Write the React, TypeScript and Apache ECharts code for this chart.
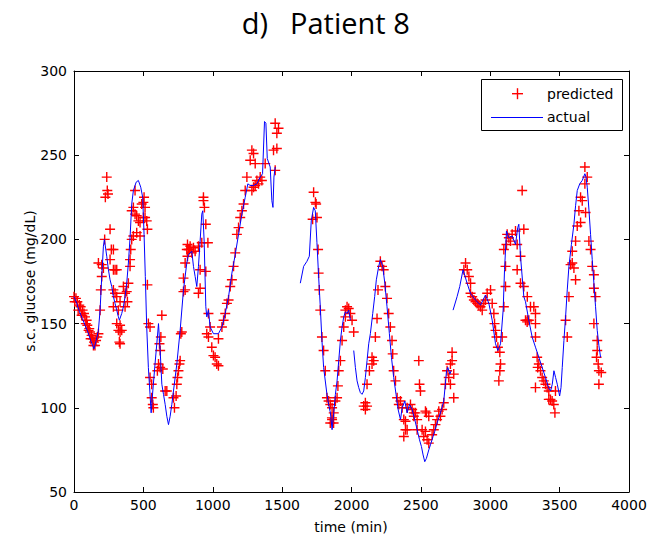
import React, { useEffect, useRef } from "react";
import * as echarts from "echarts";

// ---- tick labels / titles ----
const titleLeft = "d)";
const titleRight = "Patient 8";
const xName = "time (min)";
const yName = "s.c. glucose (mg/dL)";
const legendNames = ["predicted", "actual"];

// ---- actual (CGM) trace; null marks a gap in the record ----
const actualTime = [
  0, 20, 40, 60, 80, 100, 120, 144, 160, 176, 188, 200, 212, 219, 236, 248, 260, 272, 284, 296, 308, 320, 327,
  344, 356, 368, 380, 392, 404, 416, 428, 448, 464, 481, 495, 505, 514, 524, 536, 548, 556, 568, 584, 601, 609,
  621, 633, 645, 657, 669, 681, 693, 705, 717, 741, 765, 789, 813, 825, 849, 861, 873, 885, 897, 909, 921, 928,
  938, 950, 957, 969, 981, 1005, 1041, 1066, 1090, 1114, 1138, 1162, 1186, 1210, 1234, 1253, 1270, 1294, 1318,
  1342, 1359, 1373, 1383, 1393, 1414, 1426, 1434, 1441, 1450,
  1540,
  1631, 1655, 1679, 1696, 1710, 1727, 1739, 1751, 1763, 1775, 1787, 1799, 1823, 1835, 1848, 1860, 1872, 1884,
  1896, 1908, 1920, 1932, 1944, 1956, 1968, 1980, 1992,
  2004,
  2016, 2028, 2040, 2052, 2064, 2076, 2088, 2100, 2112, 2124, 2136, 2153, 2167, 2179, 2196, 2208, 2225, 2240,
  2256, 2273, 2288, 2304, 2321, 2336, 2353, 2365, 2384, 2401, 2418, 2437, 2456, 2473, 2490, 2504, 2516, 2528,
  2540, 2557, 2569, 2588, 2600, 2617, 2641, 2665, 2685, 2694, 2709, 2718,
  2725,
  2732, 2761, 2780, 2804, 2833, 2857, 2893, 2930, 2966, 2990, 3014, 3038, 3055, 3074, 3093, 3103, 3117, 3134,
  3158, 3182, 3198, 3206, 3218, 3242, 3254, 3278, 3302, 3326, 3350, 3374, 3398, 3420, 3435, 3447, 3459, 3471,
  3483, 3500, 3510, 3519, 3531, 3543, 3555, 3567, 3585, 3603, 3615, 3627, 3645, 3663, 3682, 3690, 3699, 3711,
  3723, 3735, 3747, 3759, 3771, 3783, 3795,
];
const actualGlucose = [
  166, 162, 157, 153, 149, 145, 140, 135, 140, 146, 158, 178, 196, 200, 190, 182, 176, 172, 166, 162, 158, 154, 152,
  156, 160, 166, 174, 186, 201, 221, 229, 234, 235, 231, 225, 203, 178, 148, 124, 108, 97, 110, 126, 142, 150,
  134, 114, 108, 102, 95, 90, 95, 102, 110, 126, 146, 170, 186, 191, 193, 184, 178, 172, 184, 199, 215, 217,
  199, 160, 154, 158, 148, 144, 144, 148, 156, 166, 180, 191, 203, 215, 225, 233, 232, 232, 233,
  237, 239, 270, 269, 248, 243, 223, 219, 237, 243,
  null,
  174, 184, 187, 190, 211, 219, 217, 198, 178, 160, 140, 124, 108, 102, 97, 87, 97, 108,
  116, 128, 140, 148, 154, 157, 156, 158, 152,
  null,
  134, 124, 116, 112, 109, 108, 110, 118, 128, 138, 144, 156, 166, 176, 184, 188, 184, 174,
  160, 144, 130, 118, 108, 99, 93, 100, 104, 97, 102, 99, 93, 87, 81, 77, 72, 68,
  70, 75, 78, 83, 86, 91, 97, 104, 122, 124, 120, 122,
  null,
  158, 166, 172, 182, 174, 168, 164, 161, 167, 162, 152, 138, 134, 138, 158, 182, 205, 201,
  202, 197, 207, 209, 190, 166, 163, 152, 142, 136, 130, 124, 118, 112, 110, 114, 122, 118,
  114, 107, 112, 124, 140, 154, 170, 184, 197, 209, 220, 229, 233, 235, 239, 237, 231, 218,
  203, 188, 174, 160, 146, 137, 130,
];

// ---- predicted values ----
const predictedTime = [
  0, 5, 14, 24, 30, 38, 48, 55, 62, 72, 79, 85, 91, 96, 105, 110, 115, 120, 127, 135, 140, 144, 151, 159, 168, 176,
  188, 193, 200, 176, 200, 212, 221, 236, 240, 226, 245, 260, 269, 284, 260, 284, 296, 308, 284, 296, 308, 332,
  356, 368, 380, 284, 320, 308, 332, 320, 332, 344, 327, 332, 368, 385, 392, 404, 409, 416, 428, 404,
  416, 428, 440, 452, 464, 476, 488, 500, 512, 500, 512, 524, 529, 452, 476, 440, 505,
  529, 536, 548, 633, 616, 626, 621, 609, 601, 621, 640, 548, 560, 560, 568, 572, 657, 669, 717, 736, 741, 746,
  753, 760, 765, 724, 770, 777, 789, 801, 789, 801, 813, 818, 832, 818,
  825, 849, 873, 897, 921, 837, 861, 909, 950, 933, 940, 933, 950, 965, 897, 909, 969, 981, 957, 969, 993,
  1005, 1017, 1029, 1041, 1041, 1066, 1078, 1090, 1102, 1114, 1126, 1138, 1150, 1162, 1174, 1186, 1198, 1210,
  1222, 1234, 1246, 1270, 1282, 1294, 1306, 1318, 1330, 1342, 1354, 1378, 1450, 1438, 1462, 1462, 1474, 1450,
  1282, 1294, 1306,
  1727, 1740, 1720, 1751, 1745, 1759, 1763, 1768, 1775, 1787, 1799, 1811, 1823, 1835, 1847, 1860, 1872, 1860,
  1884, 1896, 1902, 1908, 1920, 1932, 1944, 1956, 1968, 1980, 1992, 2004, 2016, 1956, 1859, 1871, 1847,
  2100, 2112, 2088, 2100, 2112, 2129, 2148, 2160, 2148, 2172, 2184, 2191, 2208, 2220, 2232, 2244, 2256, 2268,
  2280, 2292, 2297, 2304, 2317, 2329, 2341, 2353, 2365, 2377, 2389, 2377, 2401, 2425, 2437, 2449, 2461, 2473,
  2485, 2490, 2497, 2509, 2521, 2389, 2401, 2449, 2473, 2540, 2533, 2545, 2557, 2581, 2593, 2605, 2617, 2641,
  2653, 2665, 2533, 2557, 2629, 2677, 2689, 2701, 2713, 2713, 2725, 2725, 2737, 2737,
  2822, 2834, 2810, 2846, 2858, 2858, 2870, 2882, 2894, 2906, 2918, 2930, 2942, 2954, 2966, 2978, 3002, 3014,
  3026, 3031, 3038, 3045, 3055, 3069, 3074, 3069, 3062, 3086, 3098, 3110, 3110, 3098, 3117, 3122, 3134, 3146,
  3158, 3182, 3194, 3194, 3218, 3242, 3230, 3218, 3242, 3267, 3267, 3290, 3314, 3326, 3254, 3266, 3278, 3326,
  3326, 3338, 3350, 3342, 3362, 3374, 3386, 3326, 3398, 3410, 3422, 3434, 3422, 3446, 3458, 3466, 3470,
  3543, 3555, 3567, 3579, 3591, 3603, 3615, 3591, 3615, 3627, 3651, 3639, 3663, 3651, 3687, 3682, 3699, 3682,
  3711, 3723, 3735, 3747, 3747, 3759, 3747, 3771, 3771, 3766, 3778, 3783, 3800, 3783,
];
const predictedGlucose = [
  166, 163, 165, 163, 158, 161, 160, 155, 158, 156, 154, 150, 152, 149, 146, 147, 145, 141, 143, 141, 137, 139, 137, 140, 142, 144,
  158, 170, 178, 186, 185, 183, 200, 237, 229, 225, 227, 206, 194, 194, 188, 182, 182, 182, 170, 168, 166, 163,
  172, 168, 169, 160, 158, 150, 149, 146, 145, 146, 139, 138, 160, 163, 174, 184, 194, 200, 202, 188,
  217, 219, 215, 214, 211, 210, 221, 222, 219, 213, 213, 211, 206, 204, 202, 229, 225,
  173, 150, 148, 155, 138, 142, 134, 126, 122, 124, 123, 118, 114, 106, 102, 100, 110, 110, 106, 107, 114, 118,
  122, 126, 128, 100, 144, 145, 169, 170, 177, 186, 194, 197, 194, 190,
  194, 192, 193, 196, 198, 196, 195, 182, 181, 223, 219, 225, 209, 198, 168, 171, 156, 148, 144, 142, 136,
  131, 130, 126, 125, 141, 148, 152, 156, 162, 164, 172, 176, 184, 192, 203, 207, 213, 217,
  221, 229, 237, 247, 253, 251, 245, 235, 233, 237, 235, 245, 241, 253, 254, 263, 266, 269,
  229, 231, 232,
  228, 222, 212, 213, 221, 194, 180, 170, 158, 142, 134, 122, 106, 104, 102, 100, 97, 93,
  104, 106, 113, 122, 128, 140, 148, 158, 160, 159, 156, 152, 145, 154, 94, 91, 91,
  103, 101, 101, 99, 114, 122, 130, 128, 126, 142, 153, 170, 187, 184, 182, 172, 165, 156,
  148, 140, 132, 122, 116, 106, 102, 104, 100, 93, 87, 83, 100, 102, 99, 95, 97, 87,
  128, 114, 110, 87, 83, 92, 87, 97, 93, 97, 86, 81, 79, 84, 87, 90, 93, 95,
  99, 103, 98, 95, 98, 114, 122, 118, 114, 126, 128, 133, 120, 106,
  186, 182, 182, 178, 174, 168, 166, 164, 163, 162, 161, 160, 158, 162, 164, 168, 170, 162,
  156, 150, 146, 142, 136, 133, 126, 122, 116, 142, 160, 172, 184, 194, 197, 203, 201, 199,
  203, 205, 197, 182, 190, 206, 229, 174, 172, 166, 152, 160, 160, 156, 152, 151, 152, 150,
  142, 130, 126, 124, 122, 118, 116, 112, 114, 112, 110, 105, 105, 104, 102, 97, 110,
  152, 142, 166, 185, 186, 183, 176, 193, 199, 208, 210, 217, 223, 225, 216, 233, 237, 243,
  199, 194, 184, 179, 171, 166, 150, 140, 134, 130, 126, 122, 121, 114,
];

const FONT = '"DejaVu Sans", sans-serif';

export default function App() {
  const ref = useRef<HTMLDivElement>(null);

  useEffect(() => {
    if (!ref.current) return;
    const chart = echarts.init(ref.current, null, { renderer: "svg" });

    const predicted = predictedTime.map((t, i) => [t, predictedGlucose[i]]);
    const actual = actualTime.map((t, i) => [t, actualGlucose[i] === null ? "-" : actualGlucose[i]]);

    const axisLine = { show: true, onZero: false, lineStyle: { color: "#000", width: 1 } };
    const axisTick = { show: true, inside: true, length: 5, lineStyle: { color: "#000", width: 1 } };
    const label = { color: "#000", fontSize: 14, fontFamily: FONT, formatter: (v: number) => String(v) };

    const plus = "path://M4.3,0H5.7V4.3H10V5.7H5.7V10H4.3V5.7H0V4.3H4.3Z";

    chart.setOption({
      animation: false,
      backgroundColor: "#fff",
      grid: { left: 74, right: 36, top: 71, bottom: 49, outerBoundsMode: "none", containLabel: false },
      xAxis: [
        {
          type: "value", min: 0, max: 4000, interval: 500, position: "bottom",
          axisLine, axisTick, splitLine: { show: false },
          axisLabel: { ...label, margin: 6 },
        },
        {
          type: "value", min: 0, max: 4000, interval: 500, position: "top",
          axisLine, axisTick, splitLine: { show: false }, axisLabel: { show: false },
        },
      ],
      yAxis: [
        {
          type: "value", min: 50, max: 300, interval: 50, position: "left",
          axisLine, axisTick, splitLine: { show: false },
          axisLabel: { ...label, margin: 7 },
        },
        {
          type: "value", min: 50, max: 300, interval: 50, position: "right",
          axisLine, axisTick, splitLine: { show: false }, axisLabel: { show: false },
        },
      ],
      series: [
        {
          name: legendNames[0],
          type: "scatter",
          xAxisIndex: 0, yAxisIndex: 0,
          data: predicted,
          symbol: plus,
          symbolSize: 10,
          itemStyle: { color: "#ff0000", opacity: 1 },
          z: 2,
        },
        {
          name: legendNames[1],
          type: "line",
          xAxisIndex: 0, yAxisIndex: 0,
          data: actual,
          showSymbol: false,
          connectNulls: false,
          lineStyle: { color: "#0000ff", width: 1 },
          itemStyle: { color: "#0000ff" },
          z: 3,
        },
      ],
      graphic: [
        {
          type: "text", x: 268, y: 22, z: 10,
          style: { text: titleLeft, font: '29px "Open Sans", sans-serif', fill: "#000", align: "right", verticalAlign: "middle" },
        },
        {
          type: "text", x: 290, y: 22, z: 10,
          style: { text: titleRight, font: '29px "Open Sans", sans-serif', fill: "#000", align: "left", verticalAlign: "middle" },
        },
        {
          type: "text", x: 351, y: 527, z: 10,
          style: { text: xName, font: `14px ${FONT}`, fill: "#000", align: "center", verticalAlign: "middle" },
        },
        {
          type: "text", x: 30, y: 281, rotation: Math.PI / 2, z: 10,
          style: { text: yName, font: `14px ${FONT}`, fill: "#000", align: "center", verticalAlign: "middle" },
        },
        {
          type: "rect", z: 20,
          shape: { x: 481.5, y: 79.5, width: 141, height: 51 },
          style: { fill: "#fff", stroke: "#000", lineWidth: 1 },
        },
        {
          type: "rect", z: 21,
          shape: { x: 512, y: 93, width: 11, height: 1.4 },
          style: { fill: "#ff0000" },
        },
        {
          type: "rect", z: 21,
          shape: { x: 516.8, y: 88.2, width: 1.4, height: 11 },
          style: { fill: "#ff0000" },
        },
        {
          type: "text", x: 547, y: 94, z: 21,
          style: { text: legendNames[0], font: `14px ${FONT}`, fill: "#000", align: "left", verticalAlign: "middle" },
        },
        {
          type: "line", z: 21,
          shape: { x1: 491, y1: 117.5, x2: 543, y2: 117.5 },
          style: { stroke: "#0000ff", lineWidth: 1 },
        },
        {
          type: "text", x: 547, y: 117, z: 21,
          style: { text: legendNames[1], font: `14px ${FONT}`, fill: "#000", align: "left", verticalAlign: "middle" },
        },
      ],
    });

    return () => chart.dispose();
  }, []);

  return (
    <div
      ref={ref}
      style={{ position: "fixed", left: 0, top: 0, width: 665, height: 541, background: "#fff" }}
    />
  );
}
